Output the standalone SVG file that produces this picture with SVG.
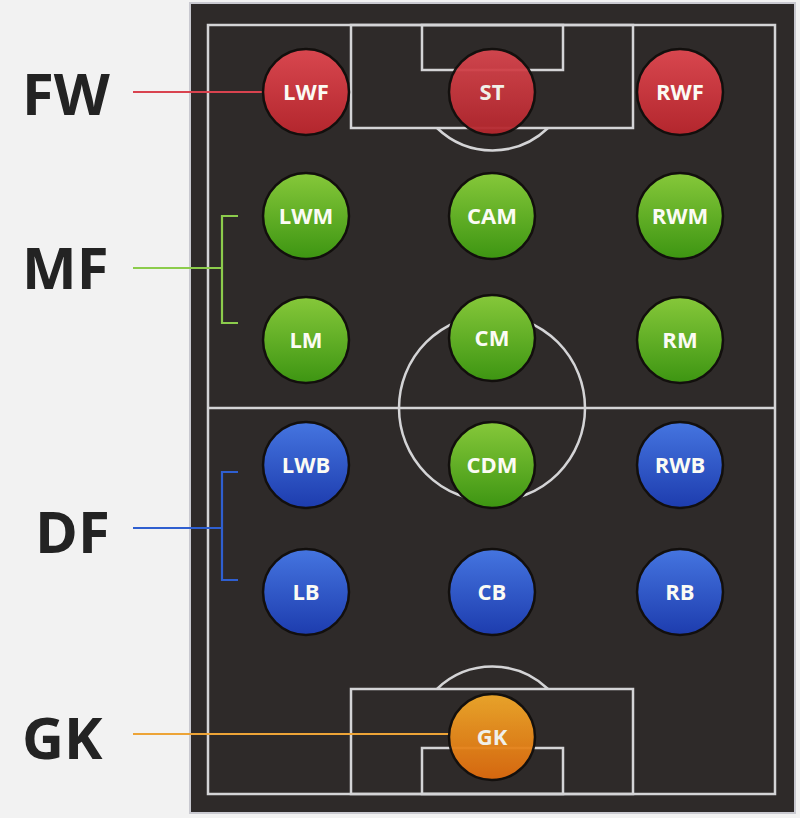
<svg xmlns="http://www.w3.org/2000/svg" width="800" height="818" viewBox="0 0 800 818">
<defs>
<linearGradient id="gRed" x1="0" y1="0" x2="0" y2="1"><stop offset="0" stop-color="#d8474f"/><stop offset="1" stop-color="#b3262d"/></linearGradient>
<linearGradient id="gGreen" x1="0" y1="0" x2="0" y2="1"><stop offset="0" stop-color="#86c83a"/><stop offset="1" stop-color="#3d9512"/></linearGradient>
<linearGradient id="gBlue" x1="0" y1="0" x2="0" y2="1"><stop offset="0" stop-color="#4575e0"/><stop offset="1" stop-color="#1d3cae"/></linearGradient>
<linearGradient id="gOrange" x1="0" y1="0" x2="0" y2="1"><stop offset="0" stop-color="#f1aa2a"/><stop offset="1" stop-color="#de6a0e"/></linearGradient>
</defs>
<style>
.line{fill:none;stroke:#d4d4d6;stroke-width:2.5}
.node circle.b{stroke:#120f0d;stroke-width:2.5}
.node text{font-family:"Open Sans","Liberation Sans",sans-serif;font-weight:bold;font-size:22px;fill:#fbfbf4;text-anchor:middle}
.lbl{font-family:"Open Sans","Liberation Sans",sans-serif;font-weight:bold;font-size:58px;fill:#232323}
.con{fill:none;stroke-width:2.2}
</style>
<rect x="0" y="0" width="800" height="818" fill="#f2f2f2"/>
<rect x="189" y="2" width="607" height="812" fill="#c9c9d0"/>
<rect x="191" y="4" width="603" height="808" fill="#2e2a29"/>
<g id="pitch">
<rect class="line" x="208" y="25" width="567" height="769"/>
<line class="line" x1="208" y1="408" x2="775" y2="408"/>
<circle class="line" cx="492" cy="408" r="93"/>
<rect class="line" x="351" y="25" width="282" height="103"/>
<rect class="line" x="422" y="25" width="141" height="45"/>
<path class="line" d="M437 128 A80 80 0 0 0 548 128"/>
<rect class="line" x="351" y="689" width="282" height="105"/>
<rect class="line" x="422" y="748" width="141" height="46"/>
<path class="line" d="M437 689 A80 80 0 0 1 548 689"/>
</g>
<g id="labels">
<text class="lbl" x="22" y="115">FW</text>
<text class="lbl" x="22" y="289">MF</text>
<text class="lbl" x="35" y="553">DF</text>
<text class="lbl" x="22" y="759">GK</text>
</g>
<g id="connectors">
<line class="con" stroke="#d9434f" x1="133" y1="92" x2="263" y2="92"/>
<path class="con" stroke="#8ccc4c" d="M133 268 H222 M238 216 H222 V323 H238"/>
<path class="con" stroke="#2f5fd0" d="M133 528 H222 M238 472 H222 V580 H238"/>
<line class="con" stroke="#eda437" x1="133" y1="734" x2="450" y2="734"/>
</g>
<g id="n-LWF" class="node"><circle class="b" cx="306" cy="92" r="43" fill="url(#gRed)"/><text x="306" y="100">LWF</text></g>
<g id="n-ST" class="node" opacity="0.95"><circle class="b" cx="492" cy="92" r="43" fill="url(#gRed)"/><text x="492" y="100">ST</text></g>
<g id="n-RWF" class="node"><circle class="b" cx="680" cy="92" r="43" fill="url(#gRed)"/><text x="680" y="100">RWF</text></g>
<g id="n-LWM" class="node"><circle class="b" cx="306" cy="216" r="43" fill="url(#gGreen)"/><text x="306" y="224">LWM</text></g>
<g id="n-CAM" class="node"><circle class="b" cx="492" cy="216" r="43" fill="url(#gGreen)"/><text x="492" y="224">CAM</text></g>
<g id="n-RWM" class="node"><circle class="b" cx="680" cy="216" r="43" fill="url(#gGreen)"/><text x="680" y="224">RWM</text></g>
<g id="n-LM" class="node"><circle class="b" cx="306" cy="340" r="43" fill="url(#gGreen)"/><text x="306" y="348">LM</text></g>
<g id="n-CM" class="node"><circle class="b" cx="492" cy="338" r="43" fill="url(#gGreen)"/><text x="492" y="346">CM</text></g>
<g id="n-RM" class="node"><circle class="b" cx="680" cy="340" r="43" fill="url(#gGreen)"/><text x="680" y="348">RM</text></g>
<g id="n-LWB" class="node"><circle class="b" cx="306" cy="465" r="43" fill="url(#gBlue)"/><text x="306" y="473">LWB</text></g>
<g id="n-CDM" class="node"><circle class="b" cx="492" cy="465" r="43" fill="url(#gGreen)"/><text x="492" y="473">CDM</text></g>
<g id="n-RWB" class="node"><circle class="b" cx="680" cy="465" r="43" fill="url(#gBlue)"/><text x="680" y="473">RWB</text></g>
<g id="n-LB" class="node"><circle class="b" cx="306" cy="592" r="43" fill="url(#gBlue)"/><text x="306" y="600">LB</text></g>
<g id="n-CB" class="node"><circle class="b" cx="492" cy="592" r="43" fill="url(#gBlue)"/><text x="492" y="600">CB</text></g>
<g id="n-RB" class="node"><circle class="b" cx="680" cy="592" r="43" fill="url(#gBlue)"/><text x="680" y="600">RB</text></g>
<g id="n-GK" class="node" opacity="0.95"><circle class="b" cx="492" cy="737" r="43" fill="url(#gOrange)"/><text x="492" y="745">GK</text></g>
</svg>
